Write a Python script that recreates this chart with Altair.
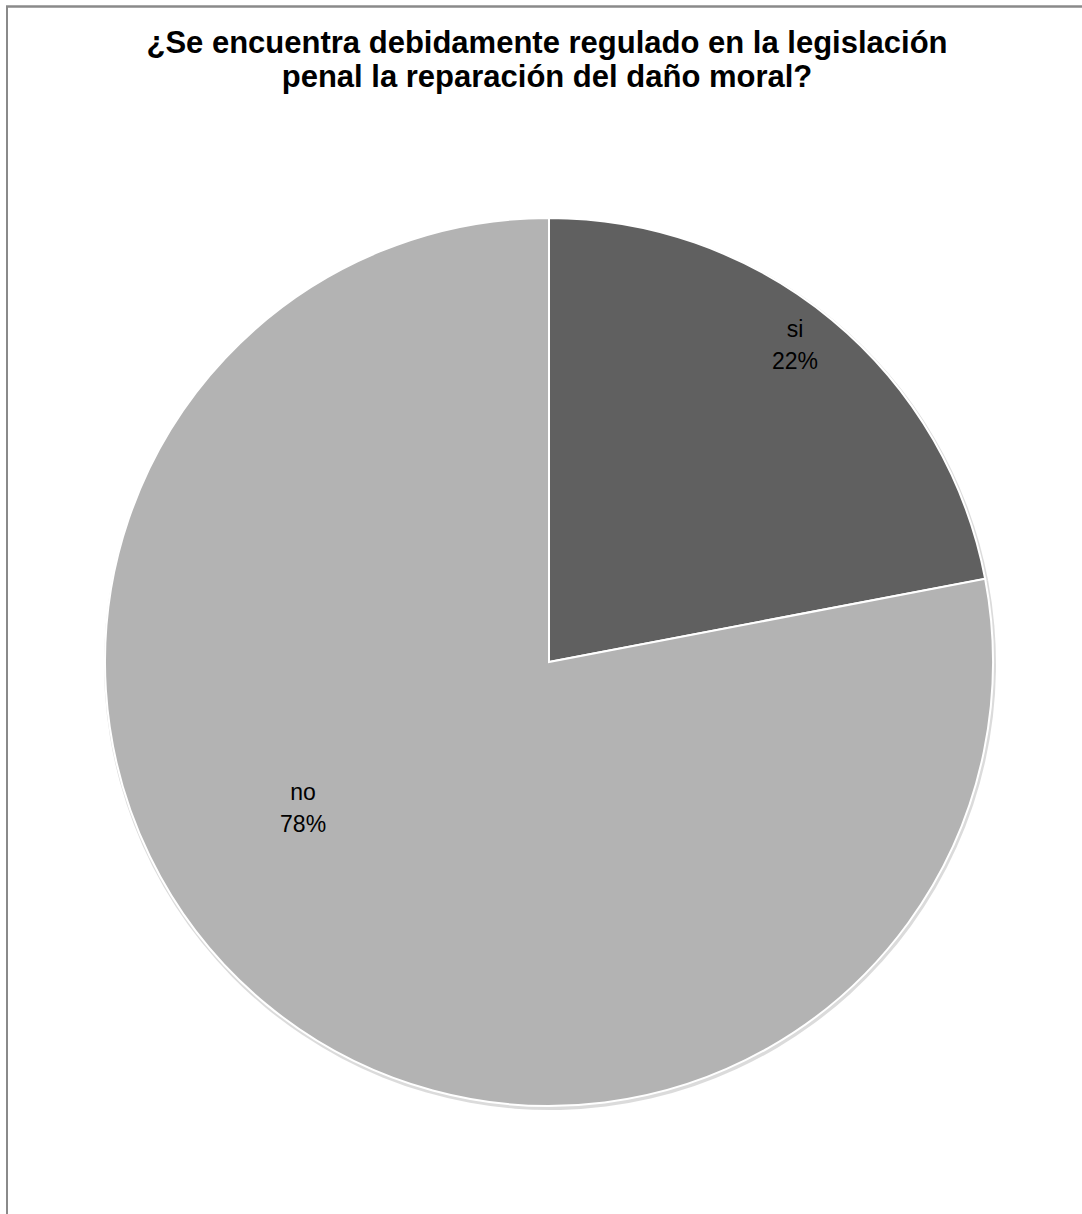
import altair as alt
import pandas as pd
import math

categories = ["si", "no"]
values = [22, 78]
percent_labels = ["22%", "78%"]
slice_order = [1, 2]
slice_colors = ["#606060", "#b3b3b3"]
title_lines = ["¿Se encuentra debidamente regulado en la legislación",
               "penal la reparación del daño moral?"]

df = pd.DataFrame({
    "cat": categories,
    "val": values,
    "pct": percent_labels,
    "ord": slice_order,
})
title_df = pd.DataFrame({"t": [title_lines]})

W, H = 1082, 1214
CX, CY = 549, 662
R = 444
DCX, DCY = CX - W / 2, CY - H / 2   # shift from default polar centre

base = alt.Chart(df).encode(
    theta=alt.Theta("val:Q", stack=True),
    order=alt.Order("ord:Q"),
)

shadow = base.mark_arc(outerRadius=R + 2, fill="#d2d2d2", opacity=0.8).encode(
    x=alt.value(CX + 1), y=alt.value(CY + 2)
)

pie = base.mark_arc(outerRadius=R, stroke="white", strokeWidth=2).encode(
    x=alt.value(CX), y=alt.value(CY),
    color=alt.Color("cat:N", scale=alt.Scale(domain=categories, range=slice_colors), legend=None),
)

labels_base = alt.Chart(df).transform_window(
    cum="sum(val)", sort=[alt.SortField("ord")], frame=[None, 0]
).transform_joinaggregate(
    total="sum(val)"
).transform_calculate(
    frac="(datum.cum - datum.val / 2) / datum.total",
    label="[datum.cat, datum.pct]",
)

text_common = dict(fontSize=23, font="Liberation Sans", color="#000000",
                   lineHeight=32, align="center", baseline="middle")

theta_enc = alt.Theta("frac:Q", stack=None, scale=alt.Scale(domain=[0, 1], range=[0, 2 * math.pi]))

lbl_si = labels_base.transform_filter(alt.datum.cat == "si").mark_text(
    radius=400, dx=-9 + DCX, dy=-24 + DCY, **text_common
).encode(theta=theta_enc, text="label:N")

lbl_no = labels_base.transform_filter(alt.datum.cat == "no").mark_text(
    radius=287, dx=-63 + DCX, dy=-90 + DCY, **text_common
).encode(theta=theta_enc, text="label:N")

labels = alt.layer(lbl_si, lbl_no)

title = alt.Chart(title_df).mark_text(
    font="Liberation Sans", fontSize=31, fontWeight="bold", color="#000000",
    align="center", baseline="alphabetic", lineHeight=34,
).encode(x=alt.value(547), y=alt.value(53), text="t")

border_top = alt.Chart(df).mark_rule(color="#8a8a8a", strokeWidth=2).encode(
    x=alt.value(6), x2=alt.value(W + 5), y=alt.value(6.5)
)
border_left = alt.Chart(df).mark_rule(color="#8a8a8a", strokeWidth=2).encode(
    y=alt.value(6), y2=alt.value(H + 5), x=alt.value(7)
)

chart = alt.layer(
    alt.layer(shadow, pie), labels, title, border_top, border_left
).resolve_scale(theta="independent").properties(
    width=W, height=H,
    autosize=alt.AutoSizeParams(type="none"),
    padding=0,
    background="white",
).configure_view(stroke=None)

chart.save("out.html", embed_options={"renderer": "svg", "actions": False})
